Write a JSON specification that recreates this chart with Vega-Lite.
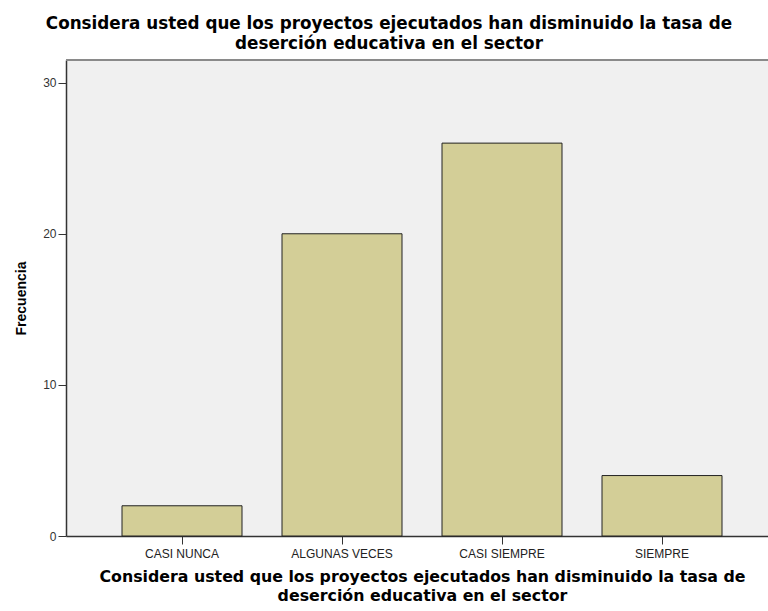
{
  "$schema": "https://vega.github.io/schema/vega-lite/v6.json",
  "width": 702,
  "height": 476,
  "autosize": {"type": "none"},
  "padding": {"left": 66, "top": 60, "right": 0, "bottom": 75},
  "background": "white",
  "title": {
    "text": ["Considera usted que los proyectos ejecutados han disminuido la tasa de", "deserción educativa en el sector"],
    "font": "DejaVu Sans",
    "fontSize": 16.8,
    "fontWeight": "bold",
    "color": "#000000",
    "anchor": "middle",
    "dx": -28,
    "offset": 6,
    "lineHeight": 20
  },
  "config": {
    "view": {"fill": "#F0F0F0", "stroke": null},
    "axis": {"labelFont": "Liberation Sans", "titleFont": "DejaVu Sans"}
  },
  "data": {
    "values": [
      {"categoria": "CASI NUNCA", "frecuencia": 2},
      {"categoria": "ALGUNAS VECES", "frecuencia": 20},
      {"categoria": "CASI SIEMPRE", "frecuencia": 26},
      {"categoria": "SIEMPRE", "frecuencia": 4}
    ]
  },
  "layer": [
    {
      "mark": {"type": "rule", "color": "#8a8a8a", "strokeWidth": 2},
      "encoding": {"y": {"datum": 31.5, "type": "quantitative"}}
    },
    {
      "mark": {"type": "bar", "fill": "#D3CE97", "stroke": "#222222", "strokeWidth": 1},
      "encoding": {
        "x": {
          "field": "categoria",
          "type": "nominal",
          "sort": ["CASI NUNCA", "ALGUNAS VECES", "CASI SIEMPRE", "SIEMPRE"],
          "scale": {"range": [0, 712], "paddingInner": 0.25, "paddingOuter": 0.35},
          "axis": {
            "title": ["Considera usted que los proyectos ejecutados han disminuido la tasa de", "deserción educativa en el sector"],
            "titleFontSize": 15.8,
            "titleFontWeight": "bold",
            "titleColor": "#000000",
            "titleLineHeight": 19,
            "titlePadding": 10,
            "labelAngle": 0,
            "labelFontSize": 12,
            "labelColor": "#222222",
            "labelPadding": 4,
            "tickSize": 8,
            "tickColor": "#333333",
            "domain": true,
            "domainColor": "#333333",
            "domainWidth": 1.5
          }
        },
        "y": {
          "field": "frecuencia",
          "type": "quantitative",
          "scale": {"domain": [0, 31.5], "nice": false},
          "axis": {
            "title": "Frecuencia",
            "titleFont": "Liberation Sans",
            "titleFontSize": 14,
            "titleFontWeight": "bold",
            "titleColor": "#000000",
            "titlePadding": 14,
            "values": [0, 10, 20, 30],
            "grid": false,
            "labelFontSize": 12,
            "labelColor": "#333333",
            "labelPadding": 2,
            "tickSize": 8,
            "tickColor": "#333333",
            "domainColor": "#333333",
            "domainWidth": 1.5
          }
        }
      }
    }
  ]
}
